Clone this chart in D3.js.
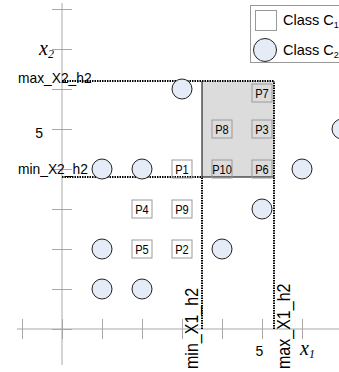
<!DOCTYPE html>
<html>
<head>
<meta charset="utf-8">
<script src="https://cdn.jsdelivr.net/npm/d3@7"></script>
<style>
  html, body { margin: 0; padding: 0; background: #fff; }
  svg { display: block; font-family: Arial, "Liberation Sans", sans-serif; }
</style>
</head>
<body>
<svg id="chart" width="339" height="372"></svg>
<script>
// Class C1 samples (labelled squares)
const c1Labels = ["P1", "P2", "P3", "P4", "P5", "P6", "P7", "P8", "P9", "P10"];
const c1X = [3, 3, 5, 2, 2, 5, 5, 4, 3, 4];
const c1Y = [4, 2, 5, 3, 2, 4, 5.9, 5, 3, 4];

// Class C2 samples (circles)
const c2X = [1, 2, 1, 4, 5, 1, 2, 6, 3, 7];
const c2Y = [1, 1, 2, 2, 3, 4, 4, 4, 6, 5];

// Hyper-rectangle h2 bounds
const boundNames = ["min_X1_h2", "max_X1_h2", "min_X2_h2", "max_X2_h2"];
const boundValues = [3.5, 5.3, 3.8, 6.2];

// Axes
const xTicks = [-1, 0, 1, 2, 3, 4, 5, 6];
const yTicks = [0, 1, 2, 3, 4, 5, 6, 7, 8];
const labelledTicks = [5];

// Legend
const legendNames = ["Class C", "Class C"];
const legendSubs = ["1", "2"];

const svg = d3.select("#chart");
const x = d3.scaleLinear().domain([0, 7]).range([62, 342]);
const y = d3.scaleLinear().domain([0, 8]).range([329, 9]);

const axisGrey = "#a8a8a8";

function condense(sel, f) {
  sel.each(function () {
    const w = this.getComputedTextLength();
    this.setAttribute("textLength", w * f);
    this.setAttribute("lengthAdjust", "spacingAndGlyphs");
  });
}

// axis lines
svg.append("line")
  .attr("x1", x(-1.125)).attr("x2", x(7)).attr("y1", y(0)).attr("y2", y(0))
  .attr("stroke", axisGrey);
svg.append("line")
  .attr("x1", x(0)).attr("x2", x(0)).attr("y1", y(8.15)).attr("y2", y(-0.9))
  .attr("stroke", axisGrey);

// x ticks crossing the axis
const gx = svg.append("g")
  .attr("transform", `translate(0,${y(0) - 10})`)
  .call(d3.axisBottom(x).tickValues(xTicks).tickSize(20).tickPadding(7)
    .tickFormat(d => labelledTicks.includes(d) ? d : ""));
gx.select(".domain").remove();
gx.selectAll(".tick line").attr("stroke", axisGrey);
gx.selectAll(".tick text").attr("font-size", 14).attr("font-family", "Arial, 'Liberation Sans', sans-serif")
  .attr("fill", "#000").attr("dx", -3);

// y ticks crossing the axis
const gy = svg.append("g")
  .attr("transform", `translate(${x(0) + 10},0)`)
  .call(d3.axisLeft(y).tickValues(yTicks).tickSize(20).tickPadding(9)
    .tickFormat(d => labelledTicks.includes(d) ? d : ""));
gy.select(".domain").remove();
gy.selectAll(".tick line").attr("stroke", axisGrey);
gy.selectAll(".tick text").attr("font-size", 14).attr("font-family", "Arial, 'Liberation Sans', sans-serif")
  .attr("fill", "#000").attr("dy", "0.6em");

// axis titles
const xt = svg.append("text").attr("x", 300).attr("y", 355)
  .attr("font-family", "'Liberation Serif', 'Times New Roman', serif").attr("font-style", "italic")
  .attr("font-size", 20);
xt.append("tspan").text("x");
xt.append("tspan").attr("font-size", 12).attr("dy", 3).text("1");

const yt = svg.append("text").attr("x", 39).attr("y", 55)
  .attr("font-family", "'Liberation Serif', 'Times New Roman', serif").attr("font-style", "italic")
  .attr("font-size", 20);
yt.append("tspan").text("x");
yt.append("tspan").attr("font-size", 12).attr("dy", 3).text("2");

const [minX1, maxX1, minX2, maxX2] = boundValues;

// shaded region h2
svg.append("rect")
  .attr("x", x(minX1)).attr("y", y(maxX2))
  .attr("width", x(maxX1) - x(minX1)).attr("height", y(minX2) - y(maxX2))
  .attr("fill", "#dcdcdc").attr("stroke", "none");
svg.append("path")
  .attr("d", `M${x(minX1)},${y(maxX2)}V${y(minX2)}H${x(maxX1)}`)
  .attr("fill", "none").attr("stroke", "#000").attr("stroke-width", 1);

// dotted bound lines
const dotted = (x1, y1, x2, y2) => svg.append("line")
  .attr("x1", x1).attr("y1", y1).attr("x2", x2).attr("y2", y2)
  .attr("stroke", "#000").attr("stroke-width", 2).attr("stroke-dasharray", "1.5,1");
dotted(x(minX1), y(0), x(minX1), y(minX2));
dotted(x(maxX1), y(0), x(maxX1), y(maxX2));
dotted(x(0), y(minX2), x(minX1), y(minX2));
dotted(x(0), y(maxX2), x(maxX1), y(maxX2));

// bound labels
const hl = svg.append("g").selectAll("text")
  .data([[boundNames[3], maxX2, 2], [boundNames[2], minX2, -3]])
  .join("text")
  .attr("x", 18).attr("y", d => y(d[1]) + d[2])
  .attr("font-size", 15).text(d => d[0]);
condense(hl, 0.92);

const vl = svg.append("g").selectAll("text")
  .data([[boundNames[0], minX1, -4], [boundNames[1], maxX1, 16]])
  .join("text")
  .attr("transform", d => `translate(${x(d[1]) + d[2]},369) rotate(-90)`)
  .attr("font-size", 18).text(d => d[0]);
condense(vl, 0.89);

// class C1 squares
const sq = svg.append("g").selectAll("g")
  .data(c1Labels.map((l, i) => ({ l, x: c1X[i], y: c1Y[i] })))
  .join("g")
  .attr("transform", d => `translate(${x(d.x)},${y(d.y)})`);
sq.append("rect").attr("x", -10).attr("y", -9).attr("width", 20).attr("height", 18)
  .attr("fill", "none").attr("stroke", "#9a9a9a");
const sqText = sq.append("text").attr("text-anchor", "middle").attr("y", 5)
  .attr("font-size", 13).text(d => d.l);
condense(sqText, 0.85);

// class C2 circles
svg.append("g").selectAll("circle")
  .data(c2X.map((v, i) => ({ x: v, y: c2Y[i] })))
  .join("circle")
  .attr("cx", d => x(d.x)).attr("cy", d => y(d.y)).attr("r", 10)
  .attr("fill", "#e6ecf7").attr("stroke", "#222");

// legend
const lg = svg.append("g");
lg.append("rect").attr("x", 250.5).attr("y", 5.5).attr("width", 110).attr("height", 57)
  .attr("fill", "#fff").attr("stroke", "#999");
lg.append("rect").attr("x", 255.5).attr("y", 10.5).attr("width", 21).attr("height", 20)
  .attr("fill", "#fff").attr("stroke", "#999");
lg.append("circle").attr("cx", 265).attr("cy", 50).attr("r", 11.5)
  .attr("fill", "#e6ecf7").attr("stroke", "#222");
legendNames.forEach((n, i) => {
  const t = lg.append("text").attr("x", 283).attr("y", 25 + i * 30).attr("font-size", 14.5);
  t.append("tspan").text(n);
  t.append("tspan").attr("font-size", 9).attr("dy", 3).text(legendSubs[i]);
});
</script>
</body>
</html>
